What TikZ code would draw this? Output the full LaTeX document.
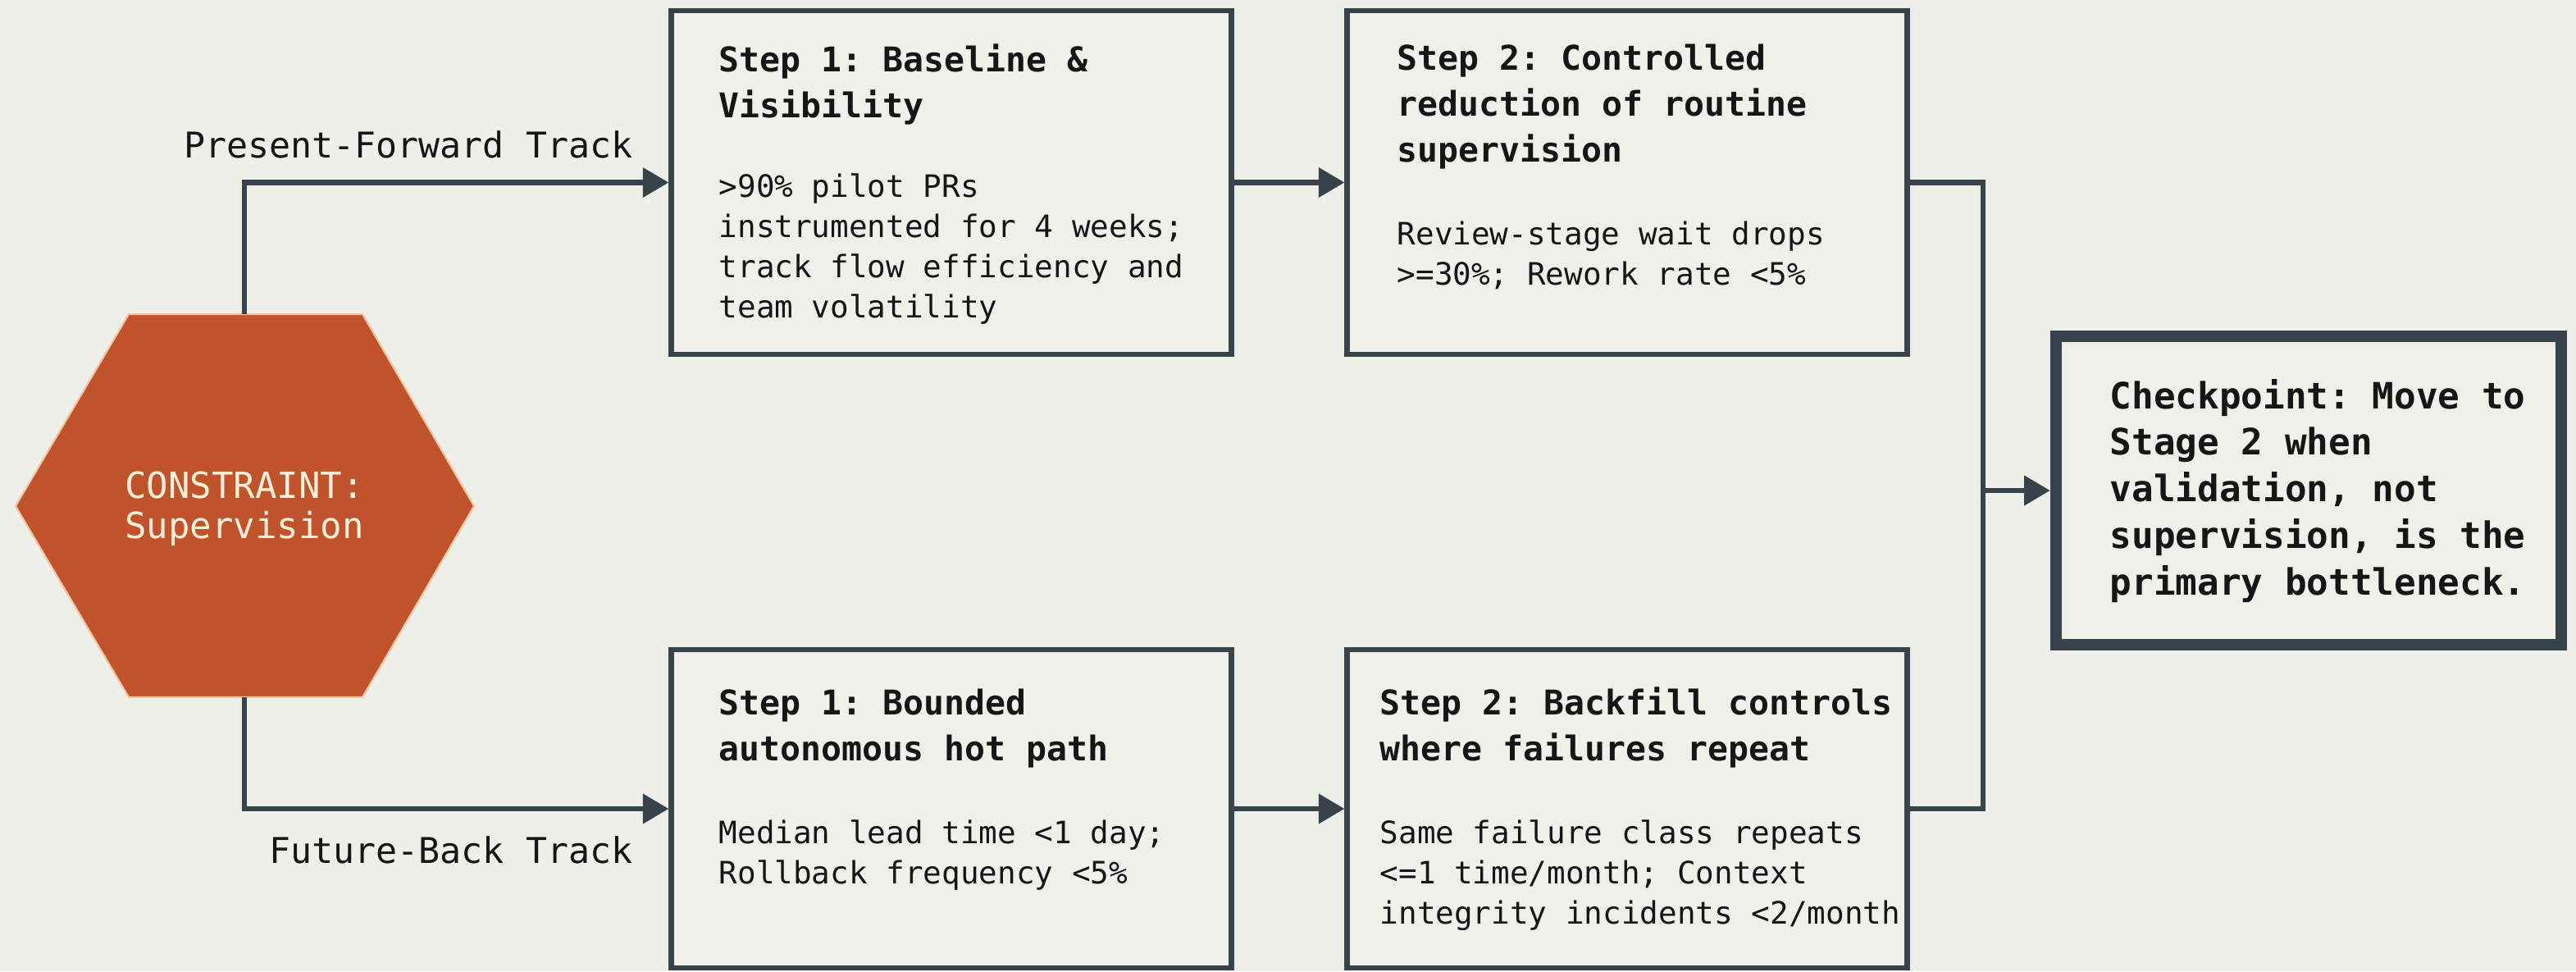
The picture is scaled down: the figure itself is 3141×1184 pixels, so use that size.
\documentclass[tikz,border=0pt]{standalone}
\usepackage{fontspec}
\setmainfont{DejaVu Sans Mono}
\usetikzlibrary{arrows.meta}
\frenchspacing
\definecolor{bgc}{HTML}{EFEFEA}
\definecolor{boxfill}{HTML}{F0F0EB}
\definecolor{linec}{HTML}{37424A}
\definecolor{hexfill}{HTML}{C0532B}
\definecolor{hexedge}{HTML}{F3C4A0}
\definecolor{hextext}{HTML}{FFEFD9}
\definecolor{txtc}{HTML}{161616}
\begin{document}
\begin{tikzpicture}[x=0.01cm,y=-0.01cm,
  box/.style={draw=linec, line width=1.9pt, fill=boxfill, minimum width=6.82cm, inner sep=0pt},
  cpbox/.style={draw=linec, line width=4pt, fill=boxfill, minimum width=6.16cm, minimum height=3.76cm, inner sep=0pt},
  conn/.style={draw=linec, line width=1.9pt},
  arr/.style={conn, -{Triangle[length=9pt,width=10pt]}},
  ttl/.style={anchor=base west, inner sep=0pt, text=txtc, font=\frenchspacing\fontsize{11.8}{16}\selectfont\bfseries},
  bdy/.style={anchor=base west, inner sep=0pt, text=txtc, font=\frenchspacing\fontsize{10.7}{14}\selectfont},
  cptxt/.style={anchor=base west, inner sep=0pt, text=txtc, font=\frenchspacing\fontsize{12.6}{16.2}\selectfont\bfseries},
  trk/.style={anchor=base east, inner sep=0pt, text=txtc, font=\frenchspacing\fontsize{12.3}{15}\selectfont},
  hextxt/.style={anchor=base, inner sep=0pt, text=hextext, font=\frenchspacing\fontsize{12.5}{14.2}\selectfont}
]
% background and bounding box
\fill[bgc] (0,0) rectangle (3141,1184);
\useasboundingbox (0,0) rectangle (3141,1184);

% hexagon
\filldraw[fill=hexfill, draw=hexedge, line width=0.6pt]
  (19,617) -- (157,383) -- (442,383) -- (578,617) -- (442,850) -- (157,850) -- cycle;
\coordinate (hextop) at (298,383);
\coordinate (hexbot) at (298,850);
\node[hextxt] (hext) at (298,607) {\parbox[t]{4cm}{\centering CONSTRAINT:\\Supervision}};

% boxes
\node[box, minimum height=4.19cm] (b1) at (1160,222.5) {};
\node[box, minimum height=4.19cm] (b2) at (1984,222.5) {};
\node[box, minimum height=3.88cm] (b3) at (1160,986) {};
\node[box, minimum height=3.88cm] (b4) at (1984,986) {};
\node[cpbox] (cp) at (2815,598) {};

% box texts
\node[ttl] (t1) at (876,87) {\parbox[t]{6.3cm}{\raggedright Step 1: Baseline \&\\Visibility}};
\node[bdy] (d1) at (876,240) {\parbox[t]{6.3cm}{\raggedright >90\% pilot PRs\\instrumented for 4 weeks;\\track flow efficiency and\\team volatility}};

\node[ttl] (t2) at (1703,85) {\parbox[t]{6.3cm}{\raggedright Step 2: Controlled\\reduction of routine\\supervision}};
\node[bdy] (d2) at (1703,298) {\parbox[t]{6.3cm}{\raggedright Review-stage wait drops\\>=30\%; Rework rate <5\%}};

\node[ttl] (t3) at (876,871) {\parbox[t]{6.3cm}{\raggedright Step 1: Bounded\\autonomous hot path}};
\node[bdy] (d3) at (876,1028) {\parbox[t]{6.3cm}{\raggedright Median lead time <1 day;\\Rollback frequency <5\%}};

\node[ttl] (t4) at (1682,871) {\parbox[t]{6.5cm}{\raggedright Step 2: Backfill controls\\where failures repeat}};
\node[bdy] (d4) at (1682,1028) {\parbox[t]{6.5cm}{\raggedright Same failure class repeats\\<=1 time/month; Context\\integrity incidents <2/month}};

\node[cptxt] (c1) at (2572,498) {\parbox[t]{5.6cm}{\raggedright Checkpoint: Move to\\Stage 2 when\\validation, not\\supervision, is the\\primary bottleneck.}};

% track labels
\node[trk] (lp) at (772,192) {Present-Forward Track};
\node[trk] (lf) at (772,1052) {Future-Back Track};

% connectors
\draw[arr] (hextop) |- (b1.west);
\draw[arr] (hexbot) |- (b3.west);
\draw[arr] (b1.east) -- (b2.west);
\draw[arr] (b3.east) -- (b4.west);
\coordinate (mrg) at (2418,598);
\draw[conn] (b2.east) -| (mrg);
\draw[conn] (b4.east) -| (mrg);
\draw[arr] (mrg) -- (cp.west);
\end{tikzpicture}
\end{document}
